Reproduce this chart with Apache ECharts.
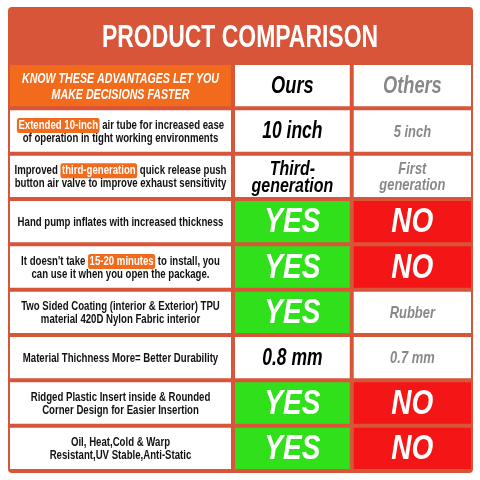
<!DOCTYPE html>
<html><head><meta charset="utf-8">
<script src="https://cdn.jsdelivr.net/npm/echarts@6/dist/echarts.min.js"></script>
<style>html,body{margin:0;background:#fff}#c{width:480px;height:480px}</style>
</head><body><div id="c"></div>
<script>
const title = 'PRODUCT COMPARISON';
const headerText = 'KNOW THESE ADVANTAGES LET YOU\nMAKE DECISIONS FASTER';
const colHeaders = ['Ours', 'Others'];
const features = [
  'Extended 10-inch air tube for increased ease\nof operation in tight working environments',
  'Improved third-generation quick release push\nbutton air valve to improve exhaust sensitivity',
  'Hand pump inflates with increased thickness',
  "It doesn't take 15-20 minutes to install, you\ncan use it when you open the package.",
  'Two Sided Coating (interior & Exterior) TPU\nmaterial 420D Nylon Fabric interior',
  'Material Thichness More= Better Durability',
  'Ridged Plastic Insert inside & Rounded\nCorner Design for Easier Insertion',
  'Oil, Heat,Cold & Warp\nResistant,UV Stable,Anti-Static'
];
const highlights = ['Extended 10-inch', 'third-generation', '', '15-20 minutes', '', '', '', ''];
const ours = ['10 inch', 'Third-\ngeneration', 'YES', 'YES', 'YES', '0.8 mm', 'YES', 'YES'];
const others = ['5 inch', 'First\ngeneration', 'NO', 'NO', 'Rubber', '0.7 mm', 'NO', 'NO'];

const rows = ['header'].concat(features.map((f, i) => 'r' + i));
const data = [];
for (let r = 0; r < rows.length; r++) for (let c = 0; c < 3; c++) data.push([c, r]);

const FONT = '"Liberation Sans",Arial,sans-serif';
const ORANGE = '#f26a1b', GREEN = '#2fe01b', RED = '#f41616', BORDER = '#d9553a';

function richFeature(i) {
  const esc = s => s.replace(/[{}|]/g, '');
  const lines = features[i].split('\n');
  const h = highlights[i];
  return lines.map(l => {
    if (h && l.indexOf(h) >= 0) {
      const [a, b] = l.split(h);
      return (a ? '{n|' + esc(a) + '}' : '') + '{h|' + h + '}' + (b ? '{n|' + esc(b) + '}' : '');
    }
    return '{n|' + esc(l) + '}';
  }).join('\n');
}

function renderItem(params, api) {
  const c = api.value(0), r = api.value(1);
  const cs = params.coordSys;
  const cy = api.coord([0, r])[1];
  const bh = api.size([0, 1])[1];
  const fr = [0, 0.4837, 0.7413, 1];
  const gap = 4;
  const x0 = cs.x + cs.width * fr[c] + (c ? gap / 2 : 0);
  const x1 = cs.x + cs.width * fr[c + 1] - (c < 2 ? gap / 2 : 0);
  const y0 = cy - bh / 2 + gap / 2, h = bh - gap;
  let fill = '#fff', text = '', style = {}, sx = 0.76;
  if (r === 0) {
    if (c === 0) {
      fill = ORANGE; text = headerText;
      style = { fill: '#fff', fontSize: 14, fontWeight: 'bold', fontStyle: 'italic', lineHeight: 16 };
    } else {
      text = colHeaders[c - 1];
      style = { fill: c === 1 ? '#000' : '#888', fontSize: 24, fontWeight: 'bold', fontStyle: 'italic' };
    }
  } else {
    const i = r - 1;
    if (c === 0) {
      text = richFeature(i);
      sx = 0.74;
      style = { rich: {
        n: { fill: '#111', fontSize: 13, fontWeight: 'bold', fontFamily: FONT, lineHeight: 13 },
        h: { fill: '#fff', backgroundColor: ORANGE, borderRadius: 3, padding: [1, 2], fontSize: 13, fontWeight: 'bold', fontFamily: FONT, lineHeight: 13 }
      } };
    } else {
      const v = c === 1 ? ours[i] : others[i];
      text = v;
      if (v === 'YES' || v === 'NO') {
        fill = v === 'YES' ? GREEN : RED;
        style = { fill: '#fff', fontSize: 35, fontWeight: 'bold', fontStyle: 'italic' };
        sx = 0.8;
      } else if (c === 1) {
        style = { fill: '#000', fontSize: v.indexOf('\n') >= 0 ? 21 : 23, fontWeight: 'bold', fontStyle: 'italic', lineHeight: 17 };
      } else {
        style = { fill: '#888', fontSize: 17, fontWeight: 'bold', fontStyle: 'italic', lineHeight: 16 };
      }
    }
  }
  return {
    type: 'group',
    children: [
      { type: 'rect', shape: { x: x0, y: y0, width: x1 - x0, height: h }, style: { fill: fill } },
      { type: 'text', x: (x0 + x1) / 2, y: y0 + h / 2 + 1, scaleX: sx,
        style: Object.assign({ text: text, align: 'center', verticalAlign: 'middle', fontFamily: FONT }, style) }
    ]
  };
}

const chart = echarts.init(document.getElementById('c'));
chart.setOption({
  backgroundColor: '#fff',
  animation: false,
  graphic: [
    { type: 'rect', z: -10, shape: { x: 8, y: 7, width: 465, height: 466, r: 4 }, style: { fill: BORDER } },
    { type: 'text', z: 10, x: 240, y: 38, scaleX: 0.74, style: { text: title, fill: '#fff', fontSize: 31, fontWeight: 'bold', fontFamily: FONT, align: 'center', verticalAlign: 'middle' } }
  ],
  grid: { left: 10, right: 9, top: 63, bottom: 9 },
  xAxis: { type: 'value', min: 0, max: 3, show: false },
  yAxis: { type: 'category', data: rows, inverse: true, show: false },
  series: [{ type: 'custom', renderItem: renderItem, data: data, encode: { x: 0, y: 1 } }]
});
</script></body></html>
